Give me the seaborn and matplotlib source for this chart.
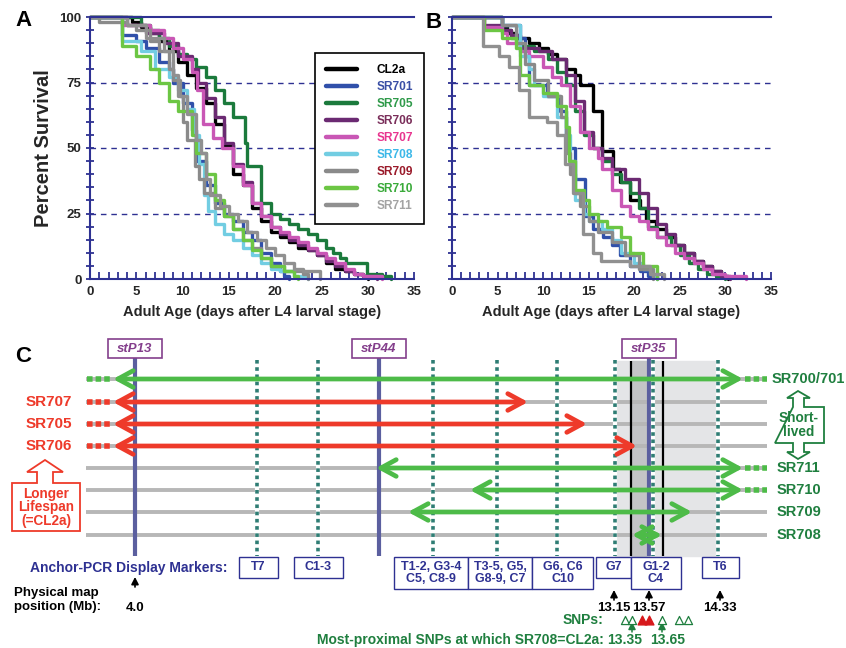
import matplotlib
matplotlib.use("Agg")
import matplotlib.pyplot as plt
import pandas as pd
import seaborn as sns
from matplotlib.lines import Line2D
from matplotlib.patches import FancyArrowPatch, Polygon, Rectangle
from matplotlib.ticker import MultipleLocator

sns.set_theme(style="white")
plt.rcParams["font.family"] = ["Liberation Sans", "DejaVu Sans"]
plt.rcParams["font.weight"] = "bold"

NAVY = "#2e3192"
RED = "#ee3a2a"
GREEN = "#4dbb48"
DKGREEN = "#1f7f3f"
GRAY = "#b7b7b7"
PURPLE = "#843f8c"

# ---- survival curves (panels A and B) ----
STRAINS = ["CL2a", "SR701", "SR705", "SR706", "SR707", "SR708", "SR709", "SR710", "SR711"]
LINE_COLORS = ["#000000", "#3050aa", "#1b7a3c", "#6b2a72", "#c957b5",
               "#72cde2", "#8a8a8a", "#6cc644", "#909090"]
LABEL_COLORS = ["#000000", "#3a4fa5", "#2f9a4a", "#7a2e5a", "#e8358f",
                "#3cb8e8", "#9a1a2a", "#3aaa3a", "#a3a3a3"]

A_CL2A_D = [0, 4.5, 5.5, 6.5, 7.5, 8.5, 9.5, 10.5, 11.5, 12.5, 13.5, 14.5, 15.5, 16.5, 17.5, 18.5,
            19.5, 20.5, 21.5, 22.5, 23.5, 24.5, 25.5, 26.5, 27.5, 28.5, 29.5, 30]
A_CL2A_P = [100, 98, 96, 94, 91, 87, 83, 78, 73, 67, 59, 51, 40, 36, 27, 22,
            18, 16, 14, 12, 11, 9, 6, 4, 3, 2, 1, 0]
A_SR701_D = [0, 3.5, 5, 6, 7.5, 8.5, 9, 10, 11, 11.5, 12.5, 13.5, 14.5, 15.5, 16.5, 17.5, 18.5, 19.5, 20.5, 21, 21.5]
A_SR701_P = [100, 93, 91, 88, 83, 80, 75, 67, 57, 45, 36, 29, 25, 22, 18, 15, 10, 6, 3, 1, 0]
A_SR705_D = [0, 5.5, 6.5, 7.5, 8.5, 9.5, 10.5, 11.5, 12.5, 13.5, 14.5, 15.5, 16.7, 17, 18.5, 19.5,
             20.5, 21.5, 22.5, 23.5, 24.5, 25.5, 26.3, 27, 27.7, 29.9, 31.5, 32.5]
A_SR705_P = [100, 97, 95, 92, 89, 86, 84, 81, 77, 72, 67, 62, 52, 43, 29, 25,
             23, 21, 19, 17, 15, 12, 10, 8, 6, 2, 1, 0]
A_SR706_D = [0, 4, 6, 8, 9.5, 11, 11.7, 12.5, 13.5, 14.5, 15.5, 16.5, 17.5, 18.5, 19.5, 20.5,
             21.5, 22.5, 23.5, 24.5, 25.5, 26.5, 27.5, 28.5, 29.5, 31]
A_SR706_P = [100, 97, 94, 90, 85, 80, 75, 69, 62, 52, 44, 37, 29, 24, 20, 17,
             15, 13, 11, 9, 7, 5, 3, 2, 1, 0]
A_SR707_D = [0, 3.5, 6.5, 8, 9, 10, 11, 11.6, 12.2, 13.3, 14.3, 15.5, 16.5, 17.5, 18.5, 19.5,
             20.5, 21.5, 22.5, 23.5, 24.5, 25.5, 26.5, 27.5, 28.5, 29.5, 31.5]
A_SR707_P = [100, 97, 95, 92, 88, 84, 79, 72, 59, 54, 50, 43, 36, 29, 24, 20,
             18, 16, 14, 12, 10, 8, 6, 4, 2, 1, 0]
A_SR708_D = [0, 3.5, 5.5, 7, 8.5, 9.5, 10.5, 11.2, 11.8, 12.3, 12.8, 13.5, 14.5, 15.5, 16.5, 17.5,
             18.5, 19.5, 20.5, 22, 23.5]
A_SR708_P = [100, 91, 87, 80, 77, 72, 65, 55, 44, 32, 26, 21, 17, 15, 12, 9, 6, 4, 3, 1, 0]
A_SR709_D = [0, 1, 4, 5, 6.5, 7.5, 8.5, 9, 9.7, 10, 10.5, 11.3, 11.8, 12.3, 13.5, 14.5, 15.5,
             16.5, 17.5, 18.5, 19.5, 21, 23, 23.5]
A_SR709_P = [100, 98, 97, 95, 91, 87, 80, 76, 70, 60, 53, 43, 38, 33, 27, 24, 19,
             15, 12, 8, 5, 3, 2, 0]
A_SR710_D = [0, 3.5, 5, 6.5, 7.5, 8.5, 9.5, 11, 11.5, 12.5, 13.5, 14.5, 15.5, 16.5, 17.5, 18.5,
             19.5, 21, 22, 22.5]
A_SR710_P = [100, 89, 85, 80, 75, 68, 64, 55, 48, 40, 30, 24, 19, 15, 11, 8, 5, 3, 1, 0]
A_SR711_D = [0, 4, 6, 8, 9, 9.5, 10.5, 11.5, 12, 12.5, 13, 14, 15, 16, 17, 18, 19, 20, 21, 22, 23, 24.8]
A_SR711_P = [100, 97, 92, 87, 78, 70, 63, 53, 48, 38, 32, 28, 25, 22, 18, 15, 12, 9, 6, 4, 3, 0]

B_CL2A_D = [0, 5.5, 6, 7, 8.5, 9.5, 10.5, 11.5, 12.5, 13.5, 14, 15.5, 16.5, 17.7, 18.4, 19.5,
            20.6, 21.3, 22.4, 23.5, 24.5, 25.5, 26.5, 27.5, 28.5, 29.5, 30.3]
B_CL2A_P = [100, 96, 94, 92, 90, 88, 86, 84, 80, 78, 74, 64, 49, 42, 37, 30,
            27, 22, 19, 16, 13, 10, 7, 5, 3, 1, 0]
B_SR701_D = [0, 5.5, 7.5, 8, 8.5, 10.4, 11.8, 12.5, 13.5, 14.6, 15.5, 16.6, 17.5, 18.4, 19.5, 20.6, 21.5, 22.5]
B_SR701_P = [100, 97, 92, 85, 74, 70, 64, 50, 38, 24, 19, 16, 13, 9, 5, 3, 1, 0]
B_SR705_D = [0, 5.5, 6.5, 7.5, 9, 10.5, 11.5, 12.5, 13.5, 14.5, 15.5, 16.5, 17.5, 18.5, 19.5, 20.5,
             21.5, 22.5, 24, 25, 26, 27, 28, 29, 30]
B_SR705_P = [100, 95, 92, 89, 87, 84, 79, 74, 64, 55, 50, 45, 40, 37, 33, 27,
             20, 16, 13, 9, 6, 4, 2, 1, 0]
B_SR706_D = [0, 3.5, 5.5, 6.5, 7.5, 9.5, 11, 12.5, 13.5, 14.5, 15.5, 16.5, 17.5, 19, 20.5, 21.5,
             22.5, 23.5, 24.5, 25.5, 26.5, 27.5, 28.5, 29.5, 30.5]
B_SR706_P = [100, 97, 95, 93, 88, 87, 84, 78, 68, 56, 50, 46, 42, 38, 33, 27,
             21, 17, 13, 10, 7, 5, 3, 1, 0]
B_SR707_D = [0, 3.5, 5.5, 6, 7.5, 8.5, 10, 11, 12, 13, 14, 15, 16, 16.5, 17.5, 18.5, 19.5, 20.5,
             21.5, 22.5, 23.5, 24.5, 25.5, 26.5, 27.5, 28.5, 30, 32.3]
B_SR707_P = [100, 96, 94, 90, 87, 85, 81, 77, 74, 66, 56, 50, 46, 42, 34, 28, 24, 22,
             19, 16, 13, 10, 8, 6, 4, 2, 1, 0]
B_SR708_D = [0, 5.5, 7.5, 8.5, 9, 10, 11.5, 12.5, 13, 13.5, 14.5, 15, 16.5, 17.5, 18.5, 20, 21, 22, 22.5]
B_SR708_P = [100, 97, 85, 80, 74, 70, 62, 55, 45, 30, 25, 22, 19, 15, 10, 6, 4, 1, 0]
B_SR709_D = [0, 5.5, 7, 8, 9, 10.5, 12, 12.5, 13, 13.5, 14, 15, 16, 17.5, 19, 20.5, 22]
B_SR709_P = [100, 97, 90, 82, 76, 70, 62, 48, 40, 33, 28, 22, 18, 14, 9, 4, 0]
B_SR710_D = [0, 3.5, 5.5, 7, 7.5, 8.5, 10, 11.5, 12.5, 12.8, 13.5, 14.5, 15, 16, 17, 18.5, 19.5, 21, 22.5]
B_SR710_P = [100, 95, 92, 88, 78, 74, 71, 66, 58, 45, 34, 30, 25, 22, 20, 16, 10, 5, 0]
B_SR711_D = [0, 3.4, 5.2, 6.3, 7.4, 8.5, 10.4, 11.5, 12.4, 13.3, 14.4, 15.5, 16.4, 19.5, 21.7, 23.3]
B_SR711_P = [100, 89, 85, 81, 72, 62, 60, 55, 44, 33, 17, 10, 7, 5, 2, 0]

A_DAYS = [A_CL2A_D, A_SR701_D, A_SR705_D, A_SR706_D, A_SR707_D, A_SR708_D, A_SR709_D, A_SR710_D, A_SR711_D]
A_PCTS = [A_CL2A_P, A_SR701_P, A_SR705_P, A_SR706_P, A_SR707_P, A_SR708_P, A_SR709_P, A_SR710_P, A_SR711_P]
B_DAYS = [B_CL2A_D, B_SR701_D, B_SR705_D, B_SR706_D, B_SR707_D, B_SR708_D, B_SR709_D, B_SR710_D, B_SR711_D]
B_PCTS = [B_CL2A_P, B_SR701_P, B_SR705_P, B_SR706_P, B_SR707_P, B_SR708_P, B_SR709_P, B_SR710_P, B_SR711_P]

# ---- panel C map (x in figure pixels along the chromosome) ----
ANCHOR_NAMES = ["stP13", "stP44", "stP35"]
ANCHOR_X = [135, 379, 649]
HATCH_X = [257, 318, 433, 497, 557, 615, 653, 718]
BLACK_X = [631, 663]
ROW_NAMES = ["SR700/701", "SR707", "SR705", "SR706", "SR711", "SR710", "SR709", "SR708"]
ROW_Y = [379, 402, 424, 446, 468, 490, 512, 535]
SEG_START = [113, 113, 113, 113, 376, 470, 408, 632]
SEG_END = [743, 528, 587, 637, 743, 743, 692, 662]
SEG_LONG = [False, True, True, True, False, False, False, False]
DOT_LEFT = [True, True, True, True, False, False, False, False]
DOT_RIGHT = [True, False, False, False, True, True, False, False]
MARKER_NAMES = ["T7", "C1-3", "T1-2, G3-4\nC5, C8-9", "T3-5, G5,\nG8-9, C7", "G6, C6\nC10",
                "G7", "G1-2\nC4", "T6"]
MARKER_X0 = [239, 294, 394, 468, 532, 596, 631, 702]
MARKER_X1 = [278, 343, 468, 532, 593, 631, 681, 739]
MB_X = [135, 614, 649, 720]
MB_LABELS = ["4.0", "13.15", "13.57", "14.33"]
SNP_X = [625, 632, 642, 649, 662, 679, 688]
SNP_DIFF = [False, False, True, True, False, False, False]
PROX_X = [632, 662]
PROX_LABELS = ["13.35", "13.65"]


def survival_frame(days, pcts):
    parts = [pd.DataFrame({"strain": s, "day": d, "pct": p})
             for s, d, p in zip(STRAINS, days, pcts)]
    return pd.concat(parts, ignore_index=True)


def draw_survival(ax, frame, show_y):
    sns.lineplot(data=frame, x="day", y="pct", hue="strain", hue_order=STRAINS,
                 palette=dict(zip(STRAINS, LINE_COLORS)), estimator=None, sort=False,
                 drawstyle="steps-post", linewidth=2.4, legend=False, ax=ax)
    for ln in ax.lines:
        ln.set_clip_on(False)
    for level in (25, 50, 75):
        ax.axhline(level, color=NAVY, lw=1.0, dashes=(4, 3.5), zorder=0)
    ax.set_xlim(0, 35)
    ax.set_ylim(0, 100)
    ax.xaxis.set_major_locator(MultipleLocator(5))
    ax.xaxis.set_minor_locator(MultipleLocator(1))
    ax.yaxis.set_major_locator(MultipleLocator(25))
    ax.yaxis.set_minor_locator(MultipleLocator(5))
    for side in ("left", "bottom", "top"):
        ax.spines[side].set_color(NAVY)
        ax.spines[side].set_linewidth(1.5)
    ax.spines["right"].set_visible(False)
    ax.tick_params(axis="both", which="both", color=NAVY, width=1.3, labelsize=9.5)
    ax.tick_params(axis="x", which="both", direction="in", length=5, pad=5, top=False, bottom=True)
    ax.tick_params(axis="y", which="both", direction="inout", length=6, pad=3, left=True, right=False,
                   labelleft=show_y)
    for t in ax.get_xticklabels() + ax.get_yticklabels():
        t.set_fontweight("bold")
    ax.set_xlabel("Adult Age (days after L4 larval stage)", fontsize=10.5, fontweight="bold", labelpad=5)
    if show_y:
        ax.set_ylabel("Percent Survival", fontsize=14.5, fontweight="bold", labelpad=5)
    else:
        ax.set_ylabel("")
    ax.set_facecolor("white")


fig = plt.figure(figsize=(8.46, 6.48), dpi=100)

# panel C drawn on a full-figure canvas in pixel units
axc = fig.add_axes([0, 0, 1, 1])
axc.set_xlim(0, 846)
axc.set_ylim(648, 0)
axc.set_axis_off()

axc.add_patch(Rectangle((HATCH_X[5], 361), HATCH_X[7] - HATCH_X[5], 195, color="#e4e5e7", zorder=0))
axc.add_patch(Rectangle((BLACK_X[0], 361), ANCHOR_X[2] - BLACK_X[0], 195, color="#c3c4c6", zorder=0.5))

axc.hlines(ROW_Y, 86, 767, color=GRAY, lw=2.8, zorder=1)

axc.vlines(ANCHOR_X, 358, 556, color="#5b5f9f", lw=3.0, zorder=2)
axc.vlines(HATCH_X, 360, 556, color="white", lw=3.0, zorder=2)
axc.vlines(HATCH_X, 360, 556, color="#2f7d74", lw=2.6, linestyles=(0, (1.0, 1.0)), zorder=2.1)
axc.vlines(BLACK_X, 361, 556, color="black", lw=1.6, zorder=2.2)

for name, x in zip(ANCHOR_NAMES, ANCHOR_X):
    axc.add_patch(Rectangle((x - 27, 339), 54, 19, facecolor="white", edgecolor=PURPLE, lw=1.2, zorder=3))
    axc.text(x, 349, name, color=PURPLE, fontsize=9.5, fontstyle="italic", fontweight="bold",
             ha="center", va="center", zorder=4)

for i, (name, y) in enumerate(zip(ROW_NAMES, ROW_Y)):
    col = RED if SEG_LONG[i] else GREEN
    if DOT_LEFT[i]:
        axc.plot([87, SEG_START[i] - 2], [y, y], color=col, lw=4, dashes=(1, 0.55), solid_capstyle="butt", zorder=3)
    if DOT_RIGHT[i]:
        axc.plot([SEG_END[i] + 2, 767], [y, y], color=col, lw=4, dashes=(1, 0.55), solid_capstyle="butt", zorder=3)
    arr = FancyArrowPatch((SEG_START[i], y), (SEG_END[i], y),
                          arrowstyle="<->,head_length=0.55,head_width=0.3", mutation_scale=20,
                          color=col, lw=3.4, shrinkA=0, shrinkB=0, zorder=4)
    axc.add_patch(arr)
    if SEG_LONG[i]:
        axc.text(72, y, name, color=RED, fontsize=11, ha="right", va="center")
    else:
        axc.text(772 if i == 0 else 777, y, name, color=DKGREEN, fontsize=10.5, ha="left", va="center")

# hollow arrows
axc.add_patch(Polygon([(37, 483), (37, 472), (27, 472), (45, 460), (63, 472), (53, 472), (53, 483),
                       (80, 483), (80, 531), (12, 531), (12, 483)], closed=True,
                      facecolor="white", edgecolor=RED, lw=1.3, zorder=3))
axc.text(46, 507.5, "Longer\nLifespan\n(=CL2a)", color=RED, fontsize=9.8, ha="center", va="center",
         linespacing=0.92, zorder=4)
axc.add_patch(Polygon([(793, 407), (793, 398), (787, 398), (798, 391), (810, 398), (804, 398), (804, 407),
                       (824, 407), (824, 443), (804, 443), (804, 452), (810, 452), (798, 459), (787, 452),
                       (793, 452), (793, 443), (775, 443)], closed=True,
                      facecolor="white", edgecolor=DKGREEN, lw=1.3, zorder=3))
axc.text(799, 425, "Short-\nlived", color=DKGREEN, fontsize=9.8, ha="center", va="center",
         linespacing=0.92, zorder=4)

# marker boxes
axc.text(30, 568, "Anchor-PCR Display Markers:", color=NAVY, fontsize=10, ha="left", va="center")
for name, x0, x1 in zip(MARKER_NAMES, MARKER_X0, MARKER_X1):
    h = 32 if "\n" in name else 21
    axc.add_patch(Rectangle((x0, 557), x1 - x0, h, facecolor="white", edgecolor=NAVY, lw=1.0, zorder=3))
    axc.text((x0 + x1) / 2, 557 + h / 2, name, color=NAVY, fontsize=9, ha="center", va="center",
             linespacing=0.95, zorder=4)

# physical map positions
axc.text(14, 600, "Physical map\nposition (Mb):", color="black", fontsize=9.5, ha="left", va="center",
         linespacing=1.15)
for x, lab in zip(MB_X, MB_LABELS):
    tip = 577 if lab == "4.0" else 590
    axc.annotate("", xy=(x, tip), xytext=(x, tip + 10),
                 arrowprops=dict(arrowstyle="-|>,head_length=0.35,head_width=0.18", color="black",
                                 lw=1.2, shrinkA=0, shrinkB=0))
    axc.text(x, 608, lab, color="black", fontsize=9.5, ha="center", va="center")

# SNPs
axc.text(603, 620, "SNPs:", color=DKGREEN, fontsize=10, ha="right", va="center")
axc.scatter([x for x, d in zip(SNP_X, SNP_DIFF) if not d], [620] * SNP_DIFF.count(False),
            marker="^", s=34, facecolor="white", edgecolor=DKGREEN, linewidth=0.9, zorder=4)
axc.scatter([x for x, d in zip(SNP_X, SNP_DIFF) if d], [620] * SNP_DIFF.count(True),
            marker="^", s=40, facecolor="#d7191c", edgecolor="#d7191c", zorder=4)
for x in PROX_X:
    axc.annotate("", xy=(x, 622), xytext=(x, 632),
                 arrowprops=dict(arrowstyle="-|>,head_length=0.35,head_width=0.18", color=DKGREEN,
                                 lw=1.1, shrinkA=0, shrinkB=0))
axc.text(604, 640, "Most-proximal SNPs at which SR708=CL2a:", color=DKGREEN, fontsize=10,
         ha="right", va="center")
for x, lab, dx in zip(PROX_X, PROX_LABELS, (-7, 6)):
    axc.text(x + dx, 640, lab, color=DKGREEN, fontsize=10, ha="center", va="center")

for letter, (x, y) in zip("ABC", [(23, 21), (434, 22), (23, 356)]):
    axc.text(x, y, letter, color="black", fontsize=16, ha="center", va="center")

# panels A and B
ax_a = fig.add_axes([90 / 846, 1 - 279 / 648, 324 / 846, 262 / 648])
ax_b = fig.add_axes([452 / 846, 1 - 279 / 648, 319 / 846, 262 / 648])
draw_survival(ax_a, survival_frame(A_DAYS, A_PCTS), True)
draw_survival(ax_b, survival_frame(B_DAYS, B_PCTS), False)

handles = [Line2D([], [], color=c, lw=3.2) for c in LINE_COLORS]
leg = ax_a.legend(handles, STRAINS, loc="upper left", bbox_to_anchor=(0.694, 0.863),
                  frameon=True, fancybox=False, edgecolor="black", framealpha=1,
                  handlelength=2.6, handletextpad=1.6, labelspacing=0.42, borderpad=0.95,
                  borderaxespad=0, labelcolor=LABEL_COLORS, prop={"weight": "bold", "size": 8.6})
leg.get_frame().set_linewidth(1.2)
leg.set_zorder(10)

fig.savefig("out.png", dpi=100)
